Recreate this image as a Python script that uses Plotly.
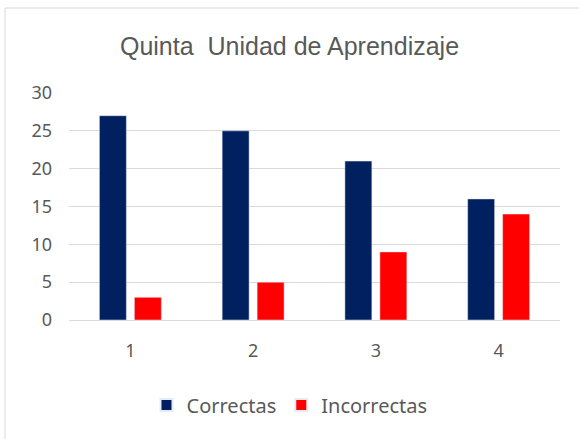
import plotly.graph_objects as go

categories = ["1", "2", "3", "4"]
correctas = [27, 25, 21, 16]
incorrectas = [3, 5, 9, 14]
y_ticks = [0, 5, 10, 15, 20, 25, 30]

W, H = 579, 439
L, R, T, B = 69, 19, 93, 119
pw, ph = W - L - R, H - T - B

def px(x):
    return (x - L) / pw

def py(y):
    return (H - B - y) / ph

fig = go.Figure()
fig.add_trace(go.Bar(name="Correctas", x=categories, y=correctas, marker_color="#002060"))
fig.add_trace(go.Bar(name="Incorrectas", x=categories, y=incorrectas, marker_color="#FF0000"))

fig.update_layout(
    width=W, height=H,
    margin=dict(l=L, r=R, t=T, b=B),
    paper_bgcolor="white", plot_bgcolor="white",
    barmode="group", bargap=0.43, bargroupgap=0.229,
    title=dict(text="Quinta  Unidad de Aprendizaje", x=0.5, xref="container", xanchor="center",
               y=1 - 46 / H, yanchor="middle",
               font=dict(family="Liberation Sans", size=25, color="#595959")),
    font=dict(family="Noto Sans", color="#595959", size=18),
    legend=dict(orientation="h", x=0.5, xanchor="center", xref="container",
                y=1 - 405 / H, yanchor="middle", yref="container",
                font=dict(size=20, color="#595959"), itemsizing="constant",
                traceorder="normal"),
    yaxis=dict(range=[0, 30], tickvals=y_ticks, showgrid=True, gridcolor="#d9d9d9",
               gridwidth=1, zeroline=False, showline=False, ticks="", ticklen=0,
               automargin=False, ticklabelstandoff=16,
               tickfont=dict(size=18, color="#595959")),
    xaxis=dict(showline=True, linecolor="#d9d9d9", linewidth=1, ticks="",
               automargin=False, ticklabelstandoff=14,
               tickfont=dict(size=18, color="#595959")),
    shapes=[
        dict(type="line", xref="paper", yref="paper", x0=px(5), x1=px(579), y0=py(8), y1=py(8),
             line=dict(color="#d9d9d9", width=1)),
        dict(type="line", xref="paper", yref="paper", x0=px(5), x1=px(5), y0=py(8), y1=py(439),
             line=dict(color="#d9d9d9", width=1)),
    ],
)
fig.write_html("out.html", config={"displayModeBar": False},
               post_script="document.body.style.margin='0';document.body.style.overflow='hidden';")
